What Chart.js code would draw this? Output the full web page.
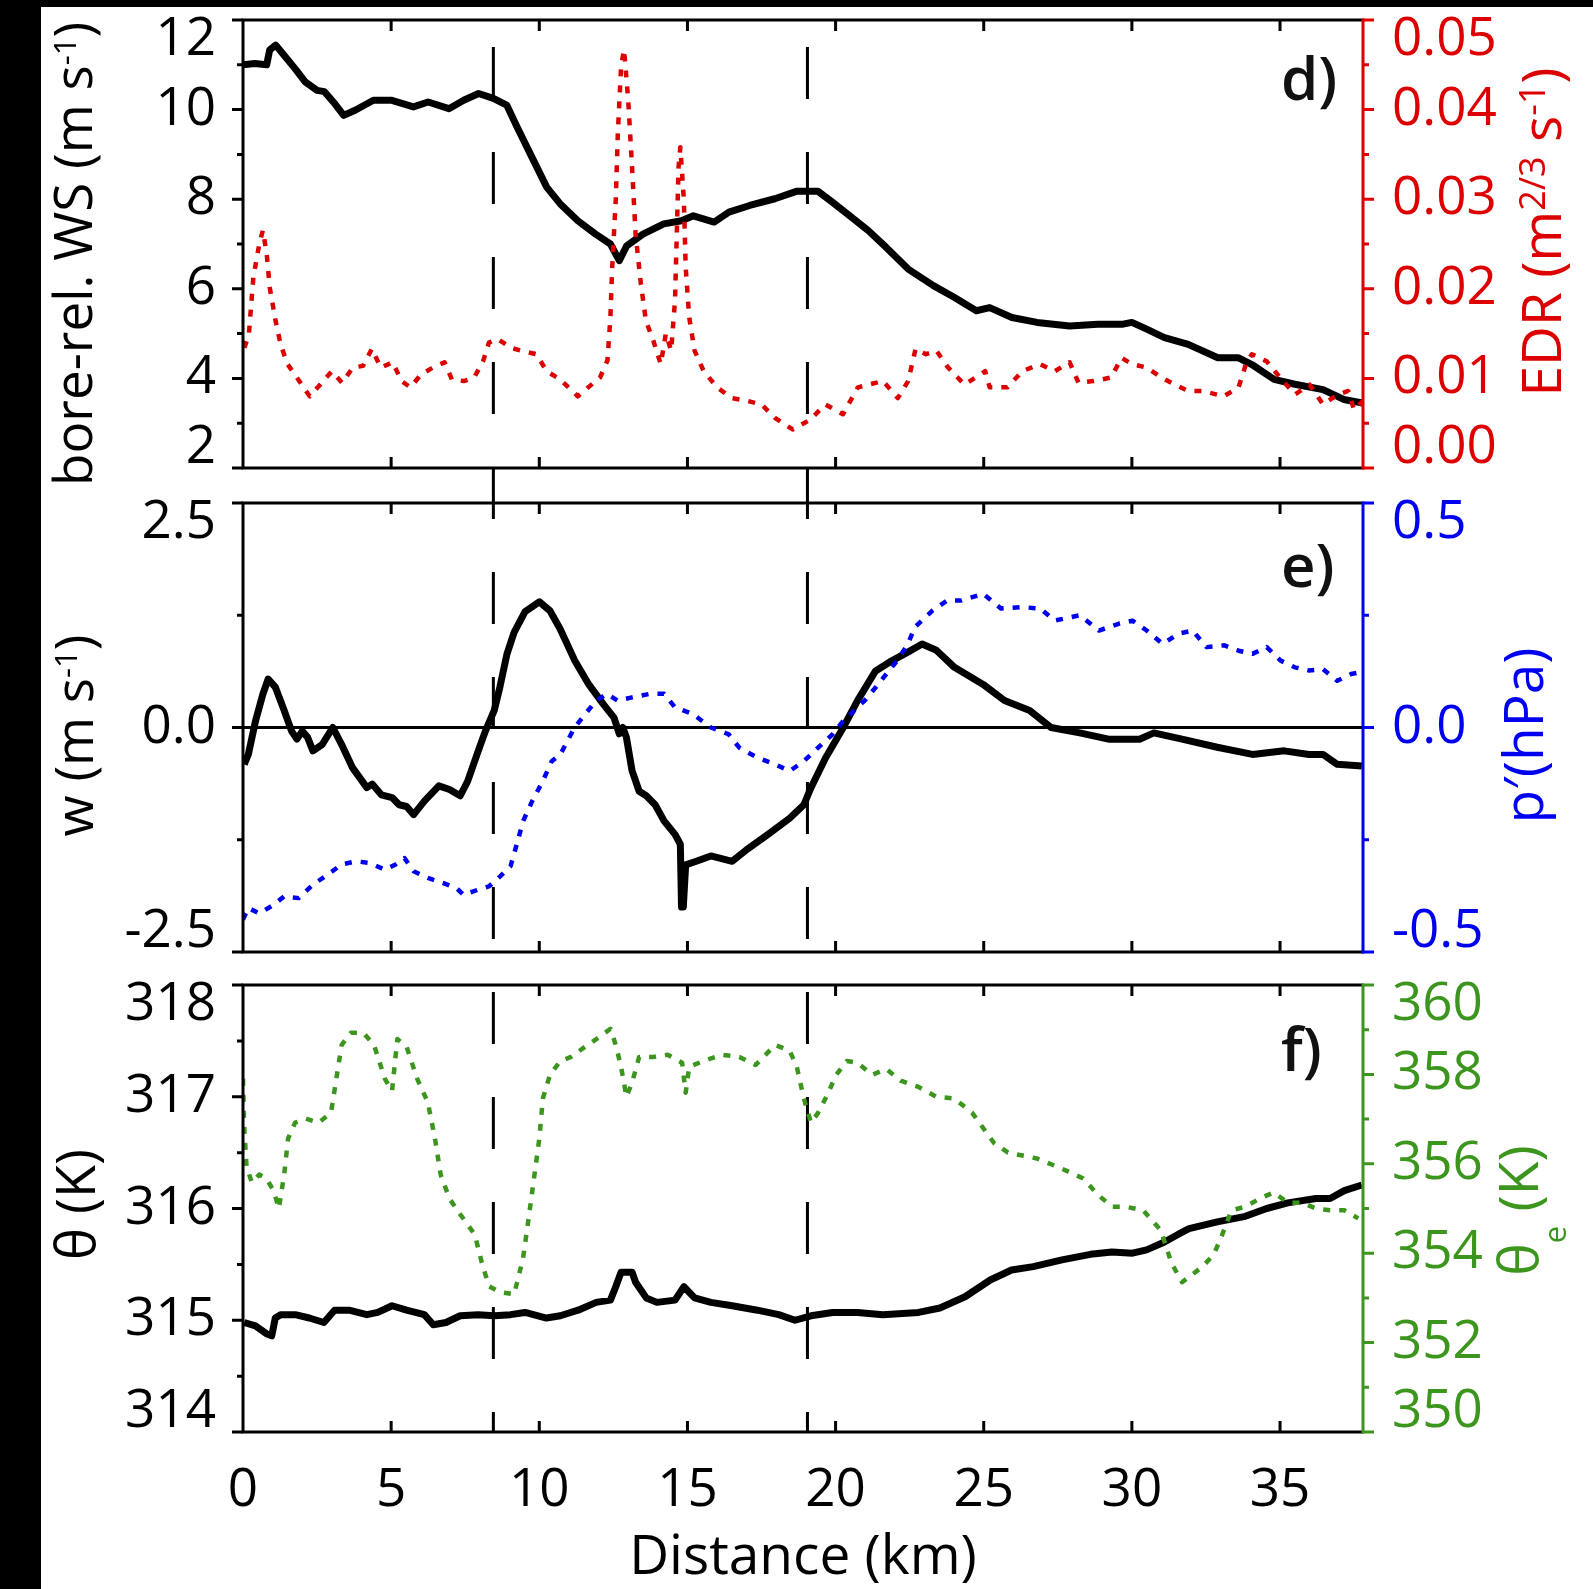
<!DOCTYPE html>
<html>
<head>
<meta charset="utf-8">
<script src="https://cdn.jsdelivr.net/npm/chart.js@4.4.1/dist/chart.umd.min.js"></script>
<style>
  html, body { margin: 0; padding: 0; background: #fff; }
  body { width: 1593px; height: 1589px; position: relative; overflow: hidden; }
  .strip { position: absolute; background: #000; }
  canvas { position: absolute; left: 0; }
</style>
</head>
<body>
<div class="strip" style="left:0;top:0;width:41px;height:1589px"></div>
<div class="strip" style="left:0;top:0;width:1593px;height:7px"></div>
<canvas id="pd" width="1593" height="485" style="top:0px"></canvas>
<canvas id="pe" width="1593" height="483" style="top:485px"></canvas>
<canvas id="pf" width="1593" height="621" style="top:968px"></canvas>
<script>
const FONT = '"Open Sans", "DejaVu Sans", sans-serif';
const RED = '#dc0000', BLUE = '#0000f0', GREEN = '#3c961e';

// distance axis (km) and bore markers
const X_MAX = 37.8;
const boreKm = [8.45, 19.05];

// d) bore-relative wind speed (m/s) and EDR, [km, value]
const wsData = [[0,11.0],[0.4,11.03],[0.8,11.0],[0.9,11.33],[1.1,11.44],[1.4,11.2],[1.75,10.92],[2.1,10.62],[2.5,10.43],[2.75,10.4],[3.1,10.13],[3.4,9.87],[3.8,9.99],[4.4,10.21],[5.0,10.21],[5.75,10.06],[6.25,10.17],[6.95,10.02],[7.45,10.21],[7.95,10.36],[8.45,10.25],[8.9,10.1],[9.25,9.61],[9.75,8.94],[10.25,8.27],[10.7,7.9],[11.3,7.52],[11.9,7.22],[12.4,7.0],[12.7,6.63],[12.95,6.96],[13.5,7.22],[14.2,7.45],[14.8,7.52],[15.2,7.63],[15.9,7.49],[16.4,7.71],[17.1,7.86],[17.95,8.01],[18.7,8.18],[19.4,8.18],[19.9,7.93],[20.4,7.67],[21.1,7.3],[21.7,6.93],[22.45,6.44],[23.3,6.07],[24.0,5.81],[24.75,5.51],[25.2,5.58],[25.95,5.36],[26.8,5.25],[27.9,5.17],[28.85,5.21],[29.7,5.21],[30.0,5.25],[30.5,5.1],[31.1,4.91],[31.9,4.76],[32.9,4.46],[33.6,4.46],[34.05,4.31],[34.8,3.98],[35.5,3.87],[36.45,3.75],[37.15,3.53],[37.8,3.45]];
const edrData = [[0.05,0.0134],[0.2,0.015],[0.35,0.0213],[0.55,0.025],[0.67,0.0265],[0.8,0.0239],[0.9,0.0202],[1.1,0.0164],[1.27,0.0138],[1.5,0.0116],[1.9,0.0097],[2.25,0.008],[2.6,0.0093],[3.0,0.0108],[3.35,0.0095],[3.7,0.0112],[4.05,0.0114],[4.35,0.0133],[4.65,0.0112],[5.05,0.0118],[5.35,0.0097],[5.65,0.009],[6.0,0.0104],[6.4,0.0112],[6.8,0.0118],[7.05,0.0099],[7.45,0.0097],[7.8,0.0101],[8.1,0.0119],[8.3,0.014],[8.6,0.0144],[9.05,0.0134],[9.5,0.013],[9.9,0.0127],[10.25,0.0108],[10.7,0.0099],[11.3,0.008],[11.65,0.009],[12.05,0.0101],[12.3,0.012],[12.4,0.0168],[12.46,0.0224],[12.58,0.0299],[12.65,0.0373],[12.76,0.0448],[12.86,0.0467],[13.0,0.0411],[13.13,0.0336],[13.25,0.0261],[13.43,0.0205],[13.6,0.0164],[13.85,0.0142],[14.1,0.0116],[14.27,0.015],[14.45,0.0131],[14.58,0.0187],[14.64,0.0261],[14.7,0.0336],[14.76,0.0358],[14.88,0.0299],[14.94,0.0224],[15.06,0.0168],[15.24,0.0131],[15.55,0.0108],[16.0,0.009],[16.5,0.0078],[17.0,0.0075],[17.5,0.0071],[17.95,0.0056],[18.55,0.0043],[19.15,0.0054],[19.65,0.0071],[20.25,0.006],[20.75,0.009],[21.1,0.0093],[21.6,0.0097],[22.1,0.0078],[22.45,0.0097],[22.7,0.0133],[23.05,0.0127],[23.4,0.0131],[23.8,0.0112],[24.35,0.0093],[25.05,0.0108],[25.2,0.009],[25.8,0.009],[26.3,0.0108],[26.9,0.0116],[27.4,0.0108],[27.9,0.0118],[28.2,0.0095],[28.7,0.0097],[29.3,0.0101],[29.65,0.0123],[30.0,0.0116],[30.5,0.0112],[31.0,0.0101],[31.45,0.0093],[31.9,0.0086],[32.4,0.0086],[33.1,0.008],[33.6,0.009],[33.85,0.0116],[34.05,0.0127],[34.55,0.0119],[35.0,0.0101],[35.5,0.0082],[36.0,0.0093],[36.45,0.0071],[36.95,0.0082],[37.3,0.0086],[37.5,0.0065],[37.8,0.0075]];

// e) vertical velocity w (m/s) and pressure perturbation p' (hPa)
const wData = [[0.04,-0.41],[0.18,-0.3],[0.42,0.07],[0.67,0.37],[0.85,0.54],[1.09,0.45],[1.39,0.19],[1.64,-0.04],[1.82,-0.13],[2.0,-0.04],[2.18,-0.11],[2.36,-0.26],[2.67,-0.19],[3.03,0.0],[3.33,-0.19],[3.7,-0.45],[4.18,-0.67],[4.36,-0.63],[4.67,-0.75],[5.03,-0.78],[5.27,-0.86],[5.52,-0.88],[5.76,-0.97],[6.12,-0.82],[6.61,-0.65],[6.97,-0.69],[7.33,-0.76],[7.58,-0.6],[7.94,-0.26],[8.18,-0.04],[8.48,0.19],[8.67,0.45],[8.91,0.82],[9.15,1.06],[9.52,1.29],[10.0,1.4],[10.36,1.3],[10.7,1.1],[11.19,0.75],[11.67,0.48],[12.16,0.26],[12.52,0.11],[12.7,-0.07],[12.82,0.0],[12.94,-0.11],[13.13,-0.48],[13.37,-0.71],[13.61,-0.76],[13.91,-0.86],[14.21,-1.04],[14.58,-1.19],[14.76,-1.3],[14.8,-2.0],[14.86,-2.0],[14.94,-1.53],[15.3,-1.49],[15.79,-1.43],[16.51,-1.49],[17.0,-1.36],[17.72,-1.19],[18.45,-1.01],[18.93,-0.86],[19.17,-0.67],[19.66,-0.34],[20.26,0.0],[20.74,0.3],[21.35,0.63],[21.83,0.73],[22.44,0.84],[22.92,0.93],[23.4,0.86],[24.01,0.67],[24.98,0.48],[25.7,0.3],[26.55,0.19],[27.27,0.0],[28.24,-0.06],[29.21,-0.13],[30.26,-0.13],[30.74,-0.06],[31.69,-0.13],[32.88,-0.22],[34.07,-0.3],[35.14,-0.26],[35.98,-0.3],[36.45,-0.3],[36.93,-0.41],[37.76,-0.43]];
const pData = [[0,-0.428],[0.18,-0.402],[0.55,-0.414],[1.03,-0.395],[1.39,-0.376],[1.88,-0.38],[2.36,-0.35],[2.85,-0.328],[3.33,-0.305],[3.82,-0.298],[4.3,-0.302],[4.79,-0.317],[5.15,-0.305],[5.45,-0.291],[5.76,-0.32],[6.24,-0.335],[6.73,-0.346],[7.21,-0.358],[7.45,-0.373],[7.94,-0.361],[8.3,-0.354],[8.67,-0.332],[9.03,-0.309],[9.27,-0.253],[9.45,-0.209],[9.76,-0.164],[10.12,-0.119],[10.42,-0.075],[10.71,-0.06],[11.19,0.0],[11.55,0.03],[11.92,0.06],[12.28,0.075],[12.64,0.06],[13.13,0.067],[13.73,0.075],[14.21,0.075],[14.58,0.045],[15.18,0.03],[15.79,0.0],[16.39,-0.015],[16.75,-0.045],[17.36,-0.067],[17.96,-0.082],[18.45,-0.097],[18.93,-0.075],[19.41,-0.045],[19.9,-0.015],[20.26,0.015],[20.62,0.037],[20.98,0.06],[21.35,0.089],[21.71,0.119],[22.08,0.149],[22.44,0.186],[22.68,0.224],[23.28,0.261],[23.77,0.283],[24.25,0.283],[24.98,0.298],[25.58,0.265],[26.31,0.268],[26.91,0.265],[27.39,0.238],[28.24,0.25],[28.89,0.216],[29.55,0.231],[30.02,0.238],[30.5,0.216],[31.04,0.186],[31.57,0.209],[32.05,0.216],[32.52,0.179],[33.12,0.183],[33.6,0.171],[34.07,0.164],[34.55,0.179],[35.02,0.149],[35.5,0.134],[35.98,0.127],[36.45,0.13],[36.93,0.104],[37.4,0.119],[37.7,0.123]];
const zeroLine = [[0,0],[X_MAX,0]];

// f) potential temperature and equivalent potential temperature (K)
const thData = [[0.04,314.98],[0.42,314.95],[0.79,314.88],[0.97,314.86],[1.09,315.02],[1.27,315.05],[1.76,315.05],[2.24,315.02],[2.73,314.98],[3.09,315.09],[3.58,315.09],[4.18,315.05],[4.55,315.07],[5.03,315.13],[5.52,315.09],[6.12,315.05],[6.42,314.96],[6.85,314.98],[7.33,315.04],[7.94,315.05],[8.48,315.04],[9.03,315.05],[9.52,315.07],[10.24,315.02],[10.71,315.04],[11.31,315.09],[11.92,315.16],[12.4,315.18],[12.58,315.3],[12.76,315.43],[13.13,315.43],[13.25,315.34],[13.61,315.2],[13.97,315.16],[14.58,315.18],[14.88,315.3],[15.24,315.2],[15.79,315.16],[16.51,315.13],[17.36,315.09],[18.08,315.05],[18.63,315.0],[19.17,315.04],[19.9,315.07],[20.74,315.07],[21.59,315.05],[22.8,315.07],[23.52,315.11],[24.37,315.21],[25.22,315.36],[25.94,315.45],[26.67,315.48],[27.64,315.54],[28.6,315.59],[29.33,315.61],[30.02,315.6],[30.5,315.63],[31.1,315.7],[31.57,315.77],[31.93,315.82],[32.88,315.88],[33.83,315.93],[34.55,316.0],[35.26,316.05],[36.21,316.09],[36.69,316.09],[37.17,316.16],[37.76,316.21]];
const theData = [[0,357.9],[0.04,356.83],[0.12,355.94],[0.3,355.58],[0.55,355.76],[0.79,355.67],[1.03,355.4],[1.21,355.0],[1.39,355.76],[1.52,356.56],[1.76,356.92],[2.12,357.01],[2.55,356.92],[2.97,357.14],[3.15,357.9],[3.33,358.66],[3.64,358.93],[4.06,358.93],[4.42,358.66],[4.79,357.9],[5.03,357.63],[5.21,358.79],[5.52,358.62],[5.88,357.9],[6.24,357.37],[6.48,356.56],[6.67,355.76],[6.97,355.22],[7.33,354.87],[7.82,354.42],[8.06,353.79],[8.3,353.26],[8.67,353.13],[9.15,353.08],[9.45,353.88],[9.64,354.78],[9.82,355.67],[10.0,356.56],[10.12,357.46],[10.36,357.99],[10.71,358.3],[11.07,358.39],[11.55,358.62],[12.04,358.84],[12.4,359.02],[12.58,358.66],[12.76,358.17],[12.94,357.5],[13.13,357.81],[13.37,358.39],[13.85,358.39],[14.33,358.44],[14.82,358.26],[14.94,357.59],[15.06,358.17],[15.54,358.3],[16.15,358.44],[16.75,358.39],[17.3,358.21],[17.96,358.66],[18.45,358.53],[18.69,358.17],[18.93,357.46],[19.17,356.92],[19.41,357.14],[19.72,357.54],[20.02,357.99],[20.38,358.3],[20.74,358.26],[21.23,357.99],[21.71,358.12],[22.2,357.86],[22.8,357.72],[23.4,357.5],[24.01,357.46],[24.61,357.14],[25.34,356.47],[25.82,356.25],[26.79,356.12],[27.64,355.89],[28.36,355.67],[28.85,355.31],[29.33,355.04],[29.79,355.04],[30.38,354.96],[30.98,354.51],[31.33,353.79],[31.69,353.35],[32.05,353.53],[32.4,353.71],[32.76,353.97],[33.0,354.33],[33.36,354.96],[33.83,355.04],[34.31,355.22],[34.79,355.36],[35.26,355.13],[35.74,355.13],[36.21,355.0],[36.69,354.96],[37.17,354.96],[37.64,354.78]];

// dashed bore lines, continuous across the three panels
const borePlugin = {
  id: 'bore',
  beforeDatasetsDraw(chart, args, o) {
    const { ctx, chartArea: a, scales: { x } } = chart;
    const y0 = o.first ? a.top : 0;
    const y1 = o.last ? a.bottom : chart.height;
    const g = chart.canvas.offsetTop + y0;
    ctx.save();
    ctx.strokeStyle = '#000';
    ctx.lineWidth = 3;
    ctx.setLineDash([52, 53]);
    ctx.lineDashOffset = (((g - 47) % 105) + 105) % 105;
    boreKm.forEach(k => {
      const px = x.getPixelForValue(k);
      ctx.beginPath(); ctx.moveTo(px, y0); ctx.lineTo(px, y1); ctx.stroke();
    });
    ctx.restore();
  }
};

function yTicks(ctx, s, x0, dir, color) {
  const step = s.ticks[1].value - s.ticks[0].value;
  ctx.strokeStyle = color;
  ctx.beginPath();
  s.ticks.forEach((t, i) => {
    const py = s.getPixelForValue(t.value);
    ctx.moveTo(x0, py); ctx.lineTo(x0 + dir * 11, py);
    if (i < s.ticks.length - 1) {
      const pm = s.getPixelForValue(t.value + step / 2);
      ctx.moveTo(x0, pm); ctx.lineTo(x0 + dir * 6, pm);
    }
  });
  ctx.stroke();
}

// rotated axis title with super/subscripts; t = {parts, x, dy, size, small}
function richText(ctx, t, y, color) {
  ctx.save();
  ctx.translate(t.x, y + t.dy);
  ctx.rotate(-Math.PI / 2);
  ctx.fillStyle = color;
  ctx.textBaseline = 'alphabetic';
  ctx.textAlign = 'left';
  const fnt = p => (p[1] ? t.small : t.size) + 'px ' + FONT;
  let w = 0;
  t.parts.forEach(p => { ctx.font = fnt(p); w += ctx.measureText(p[0]).width; });
  let cx = -w / 2;
  t.parts.forEach(p => {
    ctx.font = fnt(p);
    const dy = p[1] === 'sup' ? -16 : p[1] === 'sub' ? 28 : 0;
    ctx.fillText(p[0], cx, dy);
    cx += ctx.measureText(p[0]).width;
  });
  ctx.restore();
}

// box, inward x ticks, outward y ticks, axis titles and panel letter
const framePlugin = {
  id: 'frame',
  afterDatasetsDraw(chart, args, o) {
    const { ctx, chartArea: a, scales } = chart;
    const x = scales.x;
    ctx.save();
    ctx.lineWidth = 3;
    ctx.strokeStyle = '#000';
    ctx.beginPath();
    x.ticks.forEach(t => {
      if (t.value <= x.min || t.value >= x.max) return;
      const px = x.getPixelForValue(t.value);
      ctx.moveTo(px, a.top); ctx.lineTo(px, a.top + 11);
      ctx.moveTo(px, a.bottom); ctx.lineTo(px, a.bottom - 11);
    });
    ctx.stroke();
    yTicks(ctx, scales.y, a.left, -1, '#000');
    yTicks(ctx, scales.y2, a.right, 1, o.color);
    ctx.strokeStyle = '#000';
    ctx.beginPath();
    ctx.moveTo(a.left, a.top); ctx.lineTo(a.right, a.top);
    ctx.moveTo(a.left, a.bottom); ctx.lineTo(a.right, a.bottom);
    ctx.moveTo(a.left, a.top - 1.5); ctx.lineTo(a.left, a.bottom + 1.5);
    ctx.stroke();
    ctx.strokeStyle = o.color;
    ctx.beginPath();
    ctx.moveTo(a.right, a.top - 1.5); ctx.lineTo(a.right, a.bottom + 1.5);
    ctx.stroke();
    const mid = (a.top + a.bottom) / 2;
    richText(ctx, o.leftTitle, mid, '#000');
    richText(ctx, o.rightTitle, mid, o.color);
    ctx.fillStyle = '#111';
    ctx.font = '600 60px ' + FONT;
    ctx.textAlign = 'left';
    ctx.textBaseline = 'alphabetic';
    ctx.fillText(o.letter, a.right - 82, a.top + o.letterDy);
    ctx.restore();
  }
};

function yScale(pos, min, max, step, digits, color, width, pad) {
  return {
    type: 'linear', position: pos, min: min, max: max,
    grid: { display: false, drawTicks: false },
    border: { display: false },
    ticks: {
      stepSize: step, color: color, padding: pad, autoSkip: false,
      font: { family: FONT, size: 53, lineHeight: 0.76 },
      callback: (v, i, t) => {
        const s = Number(v).toFixed(digits);
        if (i === 0) return [s, ''];
        if (i === t.length - 1) return ['', s];
        return s;
      }
    },
    afterFit: s => { s.width = width; s.paddingTop = 0; s.paddingBottom = 0; }
  };
}

function xScale(show, h) {
  return {
    type: 'linear', min: 0, max: X_MAX,
    grid: { display: false, drawTicks: false },
    border: { display: false },
    ticks: {
      display: show, stepSize: 5, includeBounds: false, autoSkip: false, maxRotation: 0,
      color: '#000', padding: 27, font: { family: FONT, size: 53 }
    },
    title: {
      display: show, text: 'Distance (km)', color: '#000',
      font: { family: FONT, size: 55, lineHeight: 1.1 }, padding: { top: 0, bottom: 0 }
    },
    afterFit: s => { s.height = h; s.paddingLeft = 0; s.paddingRight = 0; }
  };
}

function line(data, color, width, dash, axis) {
  return {
    data: data.map(p => ({ x: p[0], y: p[1] })),
    borderColor: color, borderWidth: width, borderDash: dash,
    borderCapStyle: 'butt', borderJoinStyle: 'round',
    pointRadius: 0, tension: 0, fill: false, yAxisID: axis
  };
}

function panel(id, cfg) {
  new Chart(document.getElementById(id), {
    type: 'line',
    data: { datasets: cfg.datasets },
    options: {
      responsive: false, animation: false, devicePixelRatio: 1, events: [],
      layout: { padding: { top: cfg.top, left: 0, right: 0, bottom: 0 } },
      scales: {
        x: xScale(cfg.showX, cfg.xh),
        y: cfg.y,
        y2: cfg.y2
      },
      plugins: {
        legend: { display: false },
        tooltip: { enabled: false },
        bore: { first: cfg.first, last: cfg.last },
        frame: cfg.frame
      }
    },
    plugins: [borePlugin, framePlugin]
  });
}

const DOT = [7, 9];

panel('pd', {
  top: 20, xh: 17, showX: false, first: true, last: false,
  y: yScale('left', 2, 12, 2, 0, '#000', 243, 27),
  y2: yScale('right', 0, 0.05, 0.01, 2, RED, 230, 29),
  datasets: [
    line(edrData, RED, 4.5, DOT, 'y2'),
    line(wsData, '#000', 7, [], 'y')
  ],
  frame: {
    color: RED, letter: 'd)', letterDy: 80,
    leftTitle: { parts: [['bore-rel. WS (m s'], ['-1', 'sup'], [')']], x: 92, dy: 10, size: 53, small: 31 },
    rightTitle: { parts: [['EDR (m'], ['2/3', 'sup'], [' s'], ['-1', 'sup'], [')']], x: 1561, dy: -12, size: 55, small: 36 }
  }
});

panel('pe', {
  top: 18, xh: 16, showX: false, first: false, last: false,
  y: yScale('left', -2.5, 2.5, 2.5, 1, '#000', 243, 27),
  y2: yScale('right', -0.5, 0.5, 0.5, 1, BLUE, 230, 29),
  datasets: [
    line(pData, BLUE, 4.5, DOT, 'y2'),
    line(wData, '#000', 7, [], 'y'),
    line(zeroLine, '#000', 3, [], 'y')
  ],
  frame: {
    color: BLUE, letter: 'e)', letterDy: 84,
    leftTitle: { parts: [['w (m s'], ['-1', 'sup'], [')']], x: 93, dy: 8, size: 53, small: 31 },
    rightTitle: { parts: [['p\u2032(hPa)']], x: 1543, dy: 8, size: 55, small: 31 }
  }
});

panel('pf', {
  top: 17, xh: 157, showX: true, first: false, last: true,
  y: yScale('left', 314, 318, 1, 0, '#000', 243, 27),
  y2: yScale('right', 350, 360, 2, 0, GREEN, 230, 29),
  datasets: [
    line(theData, GREEN, 4.5, DOT, 'y2'),
    line(thData, '#000', 7, [], 'y')
  ],
  frame: {
    color: GREEN, letter: 'f)', letterDy: 86,
    leftTitle: { parts: [['\u03b8 (K)']], x: 95, dy: -4, size: 54, small: 31 },
    rightTitle: { parts: [['\u03b8'], ['e', 'sub'], [' (K)']], x: 1538, dy: 2, size: 55, small: 31 }
  }
});
</script>
</body>
</html>
